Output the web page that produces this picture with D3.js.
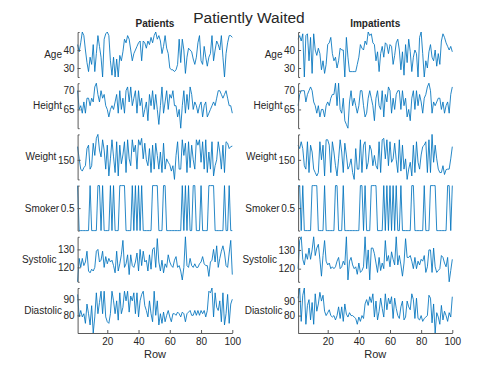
<!DOCTYPE html>
<html>
<head>
<meta charset="utf-8">
<script src="https://cdn.jsdelivr.net/npm/d3@7"></script>
<style>
  body { margin: 0; background: #fff; }
  svg { display: block; font-family: "Liberation Sans", Arial, sans-serif; }
</style>
</head>
<body>
<svg id="chart"></svg>
<script>

// ---- data (rows 1..100) ----
var varNames = ['Age', 'Height', 'Weight', 'Smoker', 'Systolic', 'Diastolic']
var yTicks = [[30, 40], [65, 70], [150], [0.5], [120, 130], [80, 90]]
var xTicks = [20, 40, 60, 80, 100]
var panelTitles = ['Patients', 'Impatients']

var patientsAge = [
  43,39,44,50,48,40,33,28,36,32, 43,28,38,48,42,36,25,46,49,50,
  48,34,26,36,25,35,25,37,34,39, 46,44,48,46,40,34,38,40,42,44,
  45,34,45,44,41,45,43,47,44,48, 50,46,48,45,38,42,48,41,38,30,
  29,29,28,29,32,46,33,46,40,27, 36,41,40,39,35,32,36,44,48,34,
  32,42,36,31,36,38,48,34,40,45, 43,40,48,36,25,38,44,48,48,47]
var patientsHeight = [
  70,65,66,64,67,64,68,68,66,68, 67,71,72,69,67,70,68,69,66,65,
  63,65,66,65,67,69,64,70,65,68, 64,70,71,67,71,66,68,70,64,70,
  66,68,63,65,67,62,69,66,70,65, 69,65,61,66,71,64,67,70,65,69,
  68,70,66,66,63,65,60,66,70,64, 69,65,71,69,65,67,66,64,66,67,
  63,66,67,63,64,65,66,67,66,68, 70,70,69,68,69,70,68,66,66,64]
var patientsWeight = [
  177,152,131,127,134,138,173,180,131,138, 184,159,194,202,170,156,191,170,131,180,
  117,152,191,156,124,187,117,180,142,160, 187,124,191,152,138,191,166,180,131,191,
  180,194,152,184,150,138,173,124,180,131, 184,159,131,166,124,184,131,152,145,140,
  127,138,110,159,187,131,131,191,159,184, 124,187,134,180,150,131,191,180,191,145,
  187,131,191,124,166,131,187,117,138,150, 187,166,131,180,124,187,184,173,177,178]
var patientsSmoker = [
  1,0,0,0,0,0,0,0,1,0, 0,0,0,1,1,0,1,0,0,0,
  0,1,0,1,0,0,0,1,1,1, 1,0,0,0,0,1,0,1,0,1,
  0,1,0,0,0,0,0,0,1,1, 1,1,0,0,0,1,1,0,0,0,
  0,0,0,0,0,0,0,1,0,1, 0,1,0,0,1,1,0,0,0,1,
  0,0,0,0,1,1,1,1,0,0, 0,0,0,0,1,0,0,1,0,0]
var patientsSystolic = [
  112,125,120,125,121,123,129,118,117,119, 118,120,129,130,123,124,129,120,126,122,
  125,123,124,121,117,129,118,122,127,135, 120,122,127,116,127,121,120,123,128,118,
  130,121,129,123,124,118,127,119,130,131, 120,136,123,118,124,117,122,120,127,123,
  121,120,124,126,120,121,118,113,120,137, 121,120,125,121,120,122,120,120,122,123,
  126,122,121,121,115,123,124,130,123,132, 120,125,129,132,128,121,120,128,135,116]
var patientsDiastolic = [
  93,79,83,79,81,75,87,81,74,86, 69,79,94,81,88,95,81,95,79,76,
  75,81,95,89,81,89,77,94,81,85, 95,89,95,82,92,89,94,81,94,79,
  89,93,95,86,83,79,89,81,76,95, 80,89,74,81,75,82,76,80,83,79,
  76,81,81,80,82,81,79,82,81,76, 81,82,83,80,80,83,80,83,80,83,
  81,83,79,83,95,94,97,79,94,85, 83,89,76,94,74,81,93,75,87,90]

var impatientsAge = [
  46,48,45,49,25,48,49,34,47,27, 49,40,37,41,38,29,34,27,32,43,
  44,47,38,34,36,30,34,41,40,40, 25,47,36,28,28,28,28,28,32,36,
  43,41,40,45,43,50,48,49,44,43, 34,39,28,38,42,36,44,43,38,43,
  42,32,37,44,46,40,29,39,26,43, 33,46,39,28,36,40,38,25,47,50,
  38,25,34,30,39,43,36,34,40,31, 38,32,45,49,47,44,42,40,42,39]
var impatientsHeight = [
  66,69,70,70,70,67,69,70,71,70, 67,66,64,66,63,65,65,63,66,67,
  66,68,69,69,72,66,72,65,64,68, 62,61,60,67,70,66,68,66,64,66,
  70,70,66,63,64,68,70,68,66,62, 68,70,66,65,70,63,69,67,71,70,
  64,68,65,69,70,70,65,70,66,68, 63,65,62,68,70,65,70,66,69,67,
  64,68,69,71,72,70,64,67,66,67, 68,68,65,67,64,66,67,64,69,71]
var impatientsWeight = [
  180,173,187,173,138,131,187,124,180,166, 131,124,117,124,187,150,180,117,191,191,
  180,124,187,166,138,117,152,191,166,124, 184,160,131,138,152,124,110,173,131,131,
  191,124,180,187,131,145,180,170,138,159, 138,131,187,124,191,194,152,191,138,187,
  145,152,184,150,124,191,127,180,131,152, 110,131,145,117,180,124,187,145,131,160,
  177,180,187,124,191,124,202,145,180,152, 131,124,124,138,120,130,131,131,152,177]
var impatientsSmoker = [
  1,1,0,1,0,0,0,0,0,1, 1,1,1,0,0,0,0,1,0,0,
  0,0,0,0,1,1,0,0,0,1, 0,0,0,0,0,0,0,0,0,0,
  1,1,0,1,0,0,0,1,1,1, 1,0,0,0,0,1,0,1,0,1,
  0,1,0,1,0,0,1,0,0,0, 0,0,0,1,1,0,0,0,0,0,
  0,1,0,0,0,1,1,1,1,0, 0,0,0,0,0,0,1,1,0,1]
var impatientsSystolic = [
  120,135,137,125,122,128,125,131,125,130, 137,127,131,133,125,116,127,135,124,122,
  123,120,121,120,121,124,126,120,121,124, 122,137,114,124,126,122,120,121,117,123,
  118,119,121,137,120,130,114,131,131,128, 123,118,126,119,123,120,135,124,127,121,
  129,125,122,137,122,127,122,116,123,136, 126,126,127,124,120,126,120,124,122,125,
  124,127,118,121,130,130,118,131,121,118, 119,120,127,126,123,121,126,113,119,125]
var impatientsDiastolic = [
  92,99,76,94,99,74,87,91,77,89, 74,95,83,88,96,90,94,83,80,82,
  84,80,79,80,77,80,86,78,86,76, 88,81,79,82,80,80,79,78,74,79,
  76,80,78,88,91,87,93,89,95,79, 90,77,83,92,85,79,95,84,92,88,
  93,78,92,85,80,78,86,90,77,79, 90,86,84,95,91,78,92,78,77,80,
  76,78,79,80,94,92,75,88,68,82, 79,74,87,77,83,80,76,82,79,93]

// ---- layout ----
var width = 500,
    height = 375
var textColor = '#262626'
var axisColor = '#5a5a5a'
var lineColor = '#0072bd'

var svg = d3.select('#chart')
  .attr('width', width)
  .attr('height', height)

svg.append('rect').attr('width', width).attr('height', height).attr('fill', '#fff')

var panels = [
  { left: 77.6, right: 232.3,
    series: [patientsAge, patientsHeight, patientsWeight, patientsSmoker, patientsSystolic, patientsDiastolic] },
  { left: 298.1, right: 452.3,
    series: [impatientsAge, impatientsHeight, impatientsWeight, impatientsSmoker, impatientsSystolic, impatientsDiastolic] }
]

var top0 = 32, step = 51.2, rowH = 45

// main title
svg.append('text')
  .attr('x', 249).attr('y', 23)
  .attr('text-anchor', 'middle')
  .style('font-size', '15.5px')
  .attr('fill', textColor)
  .text('Patiently Waited')

panels.forEach(function(p, pi) {
  var x = d3.scaleLinear().domain([1, 100]).range([p.left, p.right])

  svg.append('text')
    .attr('x', (p.left + p.right) / 2).attr('y', 26.5)
    .attr('text-anchor', 'middle')
    .style('font-size', '10px')
    .style('font-weight', 'bold')
    .attr('fill', textColor)
    .text(panelTitles[pi])

  p.series.forEach(function(vals, k) {
    var y0 = top0 + k * step
    var y = d3.scaleLinear()
      .domain(d3.extent(vals))
      .range([y0 + rowH, y0])

    var g = svg.append('g')

    g.append('path')
      .datum(vals)
      .attr('fill', 'none')
      .attr('stroke', lineColor)
      .attr('stroke-width', 0.85)
      .attr('stroke-linejoin', 'round')
      .attr('d', d3.line().x((d, i) => x(i + 1)).y((d) => y(d)))

    var ax = g.append('g')
      .attr('transform', `translate(${p.left},0)`)
      .call(d3.axisLeft(y).tickValues(yTicks[k]).tickSizeInner(-3).tickSizeOuter(-2).tickPadding(3))

    ax.select('.domain').attr('stroke', axisColor)
    ax.selectAll('.tick line').attr('stroke', axisColor)
    ax.selectAll('.tick text')
      .attr('fill', textColor)
      .style('font-size', '10px')
      .style('font-family', '"Liberation Sans", Arial, sans-serif')

    // width of the widest tick label, the variable name sits left of it
    var maxW = 0
    ax.selectAll('.tick text').each(function() {
      maxW = Math.max(maxW, this.getComputedTextLength())
    })

    g.append('text')
      .attr('x', p.left - 3 - maxW - 1.5)
      .attr('y', y0 + rowH / 2)
      .attr('dy', '0.35em')
      .attr('text-anchor', 'end')
      .style('font-size', '10px')
      .attr('fill', textColor)
      .text(varNames[k])

    // x axis only under the last plot
    if (k == p.series.length - 1) {
      var xa = g.append('g')
        .attr('transform', `translate(0,${y0 + rowH})`)
        .call(d3.axisBottom(x).tickValues(xTicks).tickSizeInner(-3).tickSizeOuter(0).tickPadding(5))
      xa.select('.domain').attr('stroke', axisColor)
      xa.selectAll('.tick line').attr('stroke', axisColor)
      xa.selectAll('.tick text')
        .attr('fill', textColor)
        .style('font-size', '10px')
        .style('font-family', '"Liberation Sans", Arial, sans-serif')

      g.append('text')
        .attr('x', (p.left + p.right) / 2)
        .attr('y', y0 + rowH + 25)
        .attr('text-anchor', 'middle')
        .style('font-size', '11px')
        .attr('fill', textColor)
        .text('Row')
    }
  })
})

</script>
</body>
</html>
